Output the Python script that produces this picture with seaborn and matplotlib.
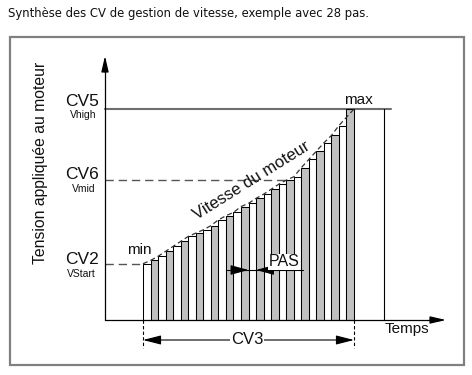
import numpy as np
import pandas as pd
import matplotlib
matplotlib.use("Agg")
import matplotlib.pyplot as plt
from matplotlib.patches import Rectangle
import seaborn as sns

# ---------------- data ----------------
title = "Synthèse des CV de gestion de vitesse, exemple avec 28 pas."
steps = list(range(1, 29))
tension = [68, 72, 77, 83, 89, 95, 101, 105, 109, 114, 121, 126, 130, 137,
           141, 147, 152, 158, 164, 169, 173, 184, 194, 204, 214, 223, 235, 255]
bar_colors = ["#ffffff", "#c0c0c0"]
cv2_vstart = 68
cv6_vmid = 169
cv5_vhigh = 255
level_labels = ["CV5", "CV6", "CV2"]
level_sublabels = ["Vhigh", "Vmid", "VStart"]
y_label = "Tension appliquée au moteur"
x_label = "Temps"

# ---------------- layout helpers (pixel -> data) ----------------
W, H = 472, 375
X0, X1 = 143.0, 354.0          # left edge of first bar, right edge of last bar
PXU = (X1 - X0) / len(steps)   # pixels per step
BASE, TOP = 320.0, 109.0       # baseline and CV5 pixel rows
PYU = (BASE - TOP) / cv5_vhigh


def dx(px):
    return (px - X0) / PXU - 0.5


def dy(py):
    return (BASE - py) / PYU


sns.set_theme(style="white")
plt.rcParams["font.family"] = ["Liberation Sans", "DejaVu Sans"]
plt.rcParams["hatch.color"] = "#666666"
plt.rcParams["hatch.linewidth"] = 0.6

fig = plt.figure(figsize=(W / 100, H / 100), dpi=100)
ax = fig.add_axes([0, 0, 1, 1])

df = pd.DataFrame({"pas": steps, "tension": tension,
                   "parite": [i % 2 for i in range(len(steps))]})
sns.barplot(data=df, x="pas", y="tension", hue="parite", palette=bar_colors,
            width=1.0, dodge=False, edgecolor="black", linewidth=0.75,
            legend=False, ax=ax, zorder=2)

ax.set_xlim(dx(0), dx(W))
ax.set_ylim(dy(H), dy(0))
ax.set_axis_off()

n = len(steps)
left_edge = -0.5
right_edge = n - 0.5

# axes with arrows
ax.plot([dx(105), dx(440)], [0, 0], color="black", lw=0.9, zorder=3)
ax.annotate("", xy=(dx(446), 0), xytext=(dx(430), 0),
            arrowprops=dict(arrowstyle="-|>,head_length=0.95,head_width=0.22",
                            color="black", lw=0.9, mutation_scale=10,
                            shrinkA=0, shrinkB=0), zorder=3)
ax.plot([dx(105), dx(105)], [0, dy(65)], color="black", lw=0.9, zorder=3)
ax.annotate("", xy=(dx(105), dy(56)), xytext=(dx(105), dy(72)),
            arrowprops=dict(arrowstyle="-|>,head_length=0.95,head_width=0.22",
                            color="black", lw=0.9, mutation_scale=10,
                            shrinkA=0, shrinkB=0), zorder=3)

# speed curve through the top-left corners of the steps
cx = [i - 0.5 for i in range(n - 1)] + [right_edge]
cy = list(tension[:n - 1]) + [tension[-1]]
ax.plot(cx, cy, color="#333333", lw=0.9, ls=(0, (4, 2.5)), zorder=3)

# level lines
ax.plot([dx(105), dx(391)], [cv5_vhigh, cv5_vhigh], color="#6e6e6e", lw=1.5, zorder=1)
x_mid = np.interp(cv6_vmid, cy, cx)
ax.plot([dx(105), x_mid], [cv6_vmid, cv6_vmid], color="#555555", lw=1.0,
        ls=(0, (6, 3.5)), zorder=1)
ax.plot([dx(105), left_edge], [cv2_vstart, cv2_vstart], color="#555555", lw=1.0,
        ls=(0, (6, 3.5)), zorder=1)
# plateau box right side
ax.plot([dx(384), dx(384)], [0, cv5_vhigh], color="black", lw=0.8, zorder=1)

# level labels (offsets in pixels above / below each level line)
for lab, sub, lev, up, down in zip(level_labels, level_sublabels,
                                   [cv5_vhigh, cv6_vmid, cv2_vstart],
                                   [8, 6, 4], [6, 9, 10]):
    ax.text(dx(99), lev + up / PYU, lab, ha="right", va="center",
            fontsize=12.5, color="#111111")
    ax.text(dx(96), lev - down / PYU, sub, ha="right",
            va="center", fontsize=7.5, color="#111111")

ax.text(dx(41), dy(163), y_label, rotation=90, ha="center", va="center",
        fontsize=11.3, color="#111111")
ax.text(dx(407), dy(329), x_label, ha="center", va="center", fontsize=11,
        color="#111111")
ax.text(dx(139), dy(250), "min", ha="center", va="center", fontsize=11,
        color="#111111")
ax.text(dx(358), dy(100), "max", ha="center", va="center", fontsize=11,
        color="#111111")
ax.text(dx(252), dy(181), "Vitesse du moteur", rotation=32, ha="center",
        va="center", fontsize=12, color="#111111", rotation_mode="anchor")

# PAS dimension
y_pas = dy(270)
ax.plot([dx(227), dx(303)], [y_pas, y_pas], color="black", lw=0.8, zorder=4)
pas_idx = 14
for tip, tail in [(pas_idx - 0.5, pas_idx - 2.0), (pas_idx + 0.5, pas_idx + 2.0)]:
    ax.annotate("", xy=(tip, y_pas), xytext=(tail, y_pas),
                arrowprops=dict(arrowstyle="-|>,head_length=1.1,head_width=0.3",
                                color="black", lw=0.8, mutation_scale=10,
                                shrinkA=0, shrinkB=0), zorder=5)
ax.text(dx(284), dy(262), "PAS", ha="center", va="center", fontsize=11.5,
        color="#111111", zorder=6,
        bbox=dict(facecolor="white", edgecolor="none", pad=0.3))

# CV3 dimension
y_cv3 = dy(340)
for xe in [left_edge, right_edge]:
    ax.plot([xe, xe], [0, dy(348)], color="black", lw=0.8, ls=(0, (3, 2)))
ax.annotate("", xy=(left_edge, y_cv3), xytext=(right_edge, y_cv3),
            arrowprops=dict(arrowstyle="<|-|>,head_length=1.1,head_width=0.28",
                            color="black", lw=0.8, mutation_scale=10,
                            shrinkA=0, shrinkB=0))
ax.text(dx(247), y_cv3, "CV3", ha="center", va="center", fontsize=12,
        color="#111111", bbox=dict(facecolor="white", edgecolor="none", pad=0.5))

# frame, title, icon
fig.patches.append(Rectangle((9.5 / W, 1 - 365 / H), (464 - 9.5) / W, (365 - 37) / H,
                             transform=fig.transFigure, fill=False,
                             edgecolor="#808080", lw=1.6))
fig.patches.append(Rectangle((17 / W, 1 - 363 / H), 16 / W, 4 / H,
                             transform=fig.transFigure, facecolor="white",
                             edgecolor="none", hatch="xxxxxx"))
fig.text(8 / W, 1 - 14 / H, title, ha="left", va="center", fontsize=8.4,
         family=["DejaVu Sans"], color="#111111")

fig.savefig("out.png", dpi=100)
